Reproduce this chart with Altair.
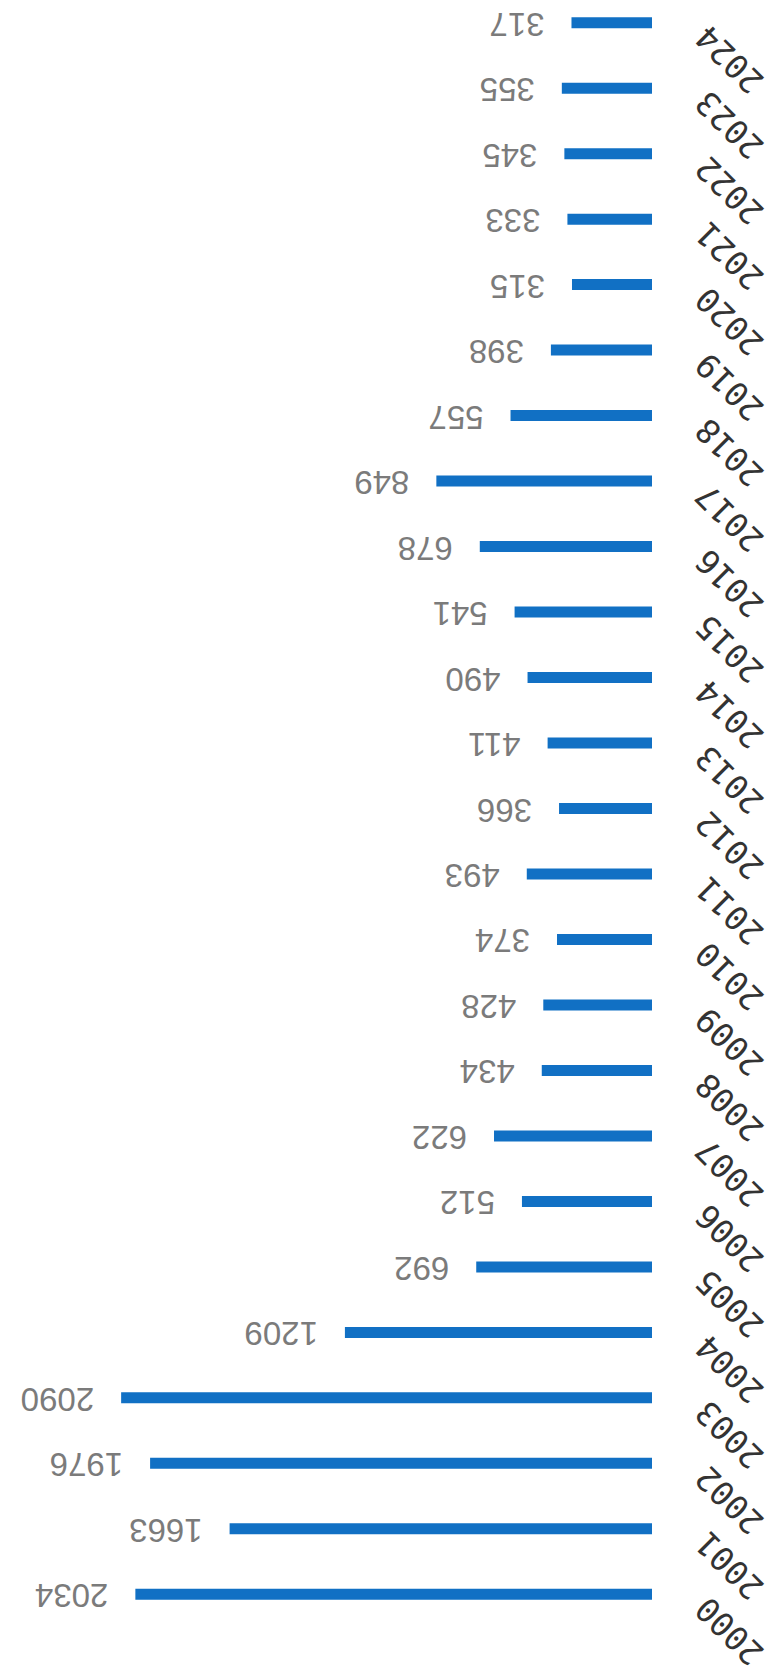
import altair as alt
import pandas as pd

years = [2000, 2001, 2002, 2003, 2004, 2005, 2006, 2007, 2008, 2009, 2010, 2011, 2012,
         2013, 2014, 2015, 2016, 2017, 2018, 2019, 2020, 2021, 2022, 2023, 2024]
values = [2034, 1663, 1976, 2090, 1209, 692, 512, 622, 434, 428, 374, 493, 366,
          411, 490, 541, 678, 849, 557, 398, 315, 333, 345, 355, 317]

df = pd.DataFrame({"year": [str(y) for y in years], "value": values})
order = [str(y) for y in sorted(years, reverse=True)]

x_scale = alt.Scale(domain=[0, 2500], reverse=True)
y_enc = alt.Y(
    "year:O",
    sort=order,
    scale=alt.Scale(type="point", padding=0.224),
    axis=alt.Axis(
        orient="right", title=None, domain=False, ticks=False, grid=False,
        labelAngle=225, labelAlign="right", labelBaseline="alphabetic",
        labelPadding=57, labelFont="DejaVu Sans Mono", labelFontSize=33,
        labelColor="#333333", labelOverlap=False, labelLimit=300,
    ),
)

bars = alt.Chart(df).mark_bar(size=11, color="#1170C4").encode(
    x=alt.X("value:Q", scale=x_scale, axis=None),
    y=y_enc,
)

labels = alt.Chart(df).mark_text(
    angle=180, align="left", baseline="middle", dx=27,
    font="Liberation Sans", fontSize=33, color="#7b7b7b",
).encode(
    x=alt.X("value:Q", scale=x_scale, axis=None),
    y=alt.Y("year:O", sort=order),
    text="value:Q",
)

chart = (bars + labels).properties(
    width=635, height=1601,
    padding={"left": 9, "top": 0, "right": 122, "bottom": 70},
    autosize=alt.AutoSizeParams(type="none"),
    background="white",
).configure_view(stroke="transparent", strokeWidth=0)

chart.save("out.html", embed_options={"renderer": "svg", "actions": False})
